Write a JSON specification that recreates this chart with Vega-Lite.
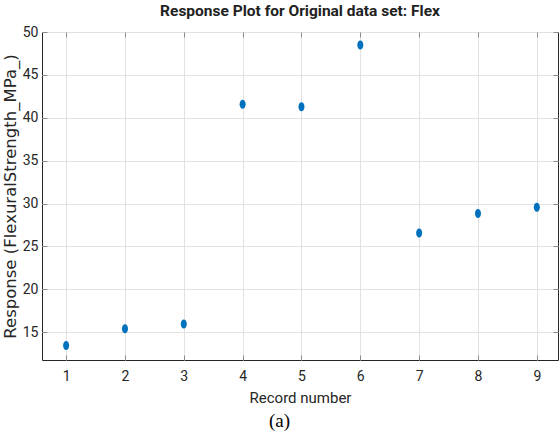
{
  "$schema": "https://vega.github.io/schema/vega-lite/v6.json",
  "autosize": "none",
  "width": 516,
  "height": 328,
  "padding": {"left": 42, "top": 32, "right": 1, "bottom": 76},
  "background": "white",
  "title": {
    "text": "Response Plot for Original data set: Flex",
    "font": "Roboto",
    "fontSize": 15.5,
    "fontWeight": "bold",
    "color": "#222222",
    "offset": 6,
    "anchor": "middle"
  },
  "config": {
    "view": {"stroke": "#262626", "strokeWidth": 1},
    "axis": {
      "domain": false,
      "gridColor": "#e2e2e2",
      "gridWidth": 1,
      "tickColor": "#8a8a8a",
      "tickSize": -5,
      "labelFont": "Roboto",
      "labelFontSize": 14,
      "labelColor": "#262626",
      "titleFontWeight": "normal",
      "titleColor": "#262626"
    }
  },
  "data": {
    "values": [
      {"record": 1, "response": 13.43},
      {"record": 2, "response": 15.39},
      {"record": 3, "response": 15.94},
      {"record": 4, "response": 41.57},
      {"record": 5, "response": 41.29},
      {"record": 6, "response": 48.48},
      {"record": 7, "response": 26.57},
      {"record": 8, "response": 28.83},
      {"record": 9, "response": 29.57}
    ]
  },
  "layer": [
    {
      "mark": {"type": "point", "filled": true, "opacity": 1, "color": "#0072BD",
               "shape": "M -0.67 0 A 0.67 1 0 1 0 0.67 0 A 0.67 1 0 1 0 -0.67 0 Z", "size": 81},
      "encoding": {
        "x": {"field": "record", "type": "quantitative",
              "scale": {"domain": [0.59, 9.36], "nice": false, "zero": false},
              "axis": {"orient": "bottom", "values": [1,2,3,4,5,6,7,8,9], "title": "Record number",
                       "titleFont": "Roboto", "titleFontSize": 15, "labelPadding": 14, "titlePadding": 7}},
        "y": {"field": "response", "type": "quantitative",
              "scale": {"domain": [11.75, 50], "nice": false, "zero": false},
              "axis": {"orient": "left", "values": [15,20,25,30,35,40,45,50], "title": "Response (FlexuralStrength_MPa_)",
                       "titleFont": "DejaVu Sans", "titleFontSize": 16.5, "labelPadding": 9, "titlePadding": 4}}
      }
    },
    {
      "mark": {"type": "point", "opacity": 0},
      "encoding": {
        "x": {"field": "record", "type": "quantitative",
              "axis": {"orient": "top", "values": [1,2,3,4,5,6,7,8,9], "labels": false, "grid": false, "title": null}},
        "y": {"field": "response", "type": "quantitative",
              "axis": {"orient": "right", "values": [15,20,25,30,35,40,45,50], "labels": false, "grid": false, "title": null}}
      }
    },
    {
      "mark": {"type": "point", "opacity": 0},
      "encoding": {
        "x": {"field": "record", "type": "quantitative",
              "axis": {"orient": "bottom", "labels": false, "ticks": false, "grid": false, "title": "(a)",
                       "titleFont": "Liberation Serif", "titleFontSize": 19, "titleColor": "#000000",
                       "titleX": 237, "titlePadding": 51}}
      }
    }
  ],
  "resolve": {"axis": {"x": "independent", "y": "independent"}}
}
